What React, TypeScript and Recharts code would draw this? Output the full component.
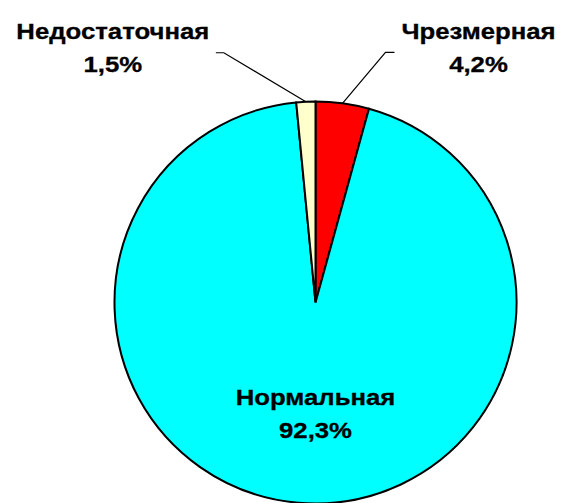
import React from 'react';
import { PieChart, Pie, Cell } from 'recharts';

const names = ['Чрезмерная', 'Нормальная', 'Недостаточная'];
const values = [4.2, 92.3, 1.5];
const valueLabels = ['4,2%', '92,3%', '1,5%'];
const colors = ['#FF0000', '#00FFFF', '#FFFFCC'];

const data = names.map((name, i) => ({ name, value: values[i], text: valueLabels[i] }));

const RADIAN = Math.PI / 180;
const FONT = '"Liberation Sans", Arial, sans-serif';

// leader line geometry for outside labels (style/layout only)
const outside: Record<number, { dx: number; dy: number; dash: number; tx: number }> = {
  0: { dx: 43, dy: -51, dash: 9, tx: 93 },
  2: { dx: -82, dy: -49, dash: -8, tx: -111 },
};

const Txt = ({ x, y, children }: { x: number; y: number; children: React.ReactNode }) => (
  <g transform={`translate(${x},${y}) scale(1.17,1)`}>
    <text x={0} y={0} textAnchor="middle" fontFamily={FONT} fontWeight="bold" fontSize={22} fill="#000" stroke="#000" strokeWidth={0.3}>
      {children}
    </text>
  </g>
);

const renderLabel = (props: any) => {
  const { cx, cy, midAngle, outerRadius, index, payload } = props;
  const name = payload?.name ?? names[index];
  const text = payload?.text ?? valueLabels[index];
  const cfg = outside[index];
  if (!cfg) {
    return (
      <g>
        <Txt x={cx} y={cy + outerRadius * 0.51}>{name}</Txt>
        <Txt x={cx} y={cy + outerRadius * 0.675}>{text}</Txt>
      </g>
    );
  }
  const px = cx + outerRadius * Math.cos(-midAngle * RADIAN);
  const py = cy + outerRadius * Math.sin(-midAngle * RADIAN);
  const ex = px + cfg.dx;
  const ey = py + cfg.dy;
  return (
    <g>
      <polyline points={`${px},${py} ${ex},${ey} ${ex + cfg.dash},${ey}`} fill="none" stroke="#000" strokeWidth={1.2} />
      <Txt x={ex + cfg.tx} y={ey - 13.5}>{name}</Txt>
      <Txt x={ex + cfg.tx} y={ey + 19.5}>{text}</Txt>
    </g>
  );
};

export default function App() {
  return (
    <div style={{ position: 'absolute', left: 0, top: 0, width: 562, height: 503, background: '#fff' }}>
      <PieChart width={562} height={503} margin={{ top: 0, right: 0, bottom: 0, left: 0 }}>
        <Pie
          data={data}
          dataKey="value"
          nameKey="name"
          cx={315.5}
          cy={302.5}
          outerRadius={201}
          startAngle={90}
          endAngle={-270}
          stroke="#000"
          strokeWidth={2}
          label={renderLabel}
          labelLine={false}
          isAnimationActive={false}
        >
          {data.map((d, i) => (
            <Cell key={d.name} fill={colors[i]} />
          ))}
        </Pie>
      </PieChart>
    </div>
  );
}
